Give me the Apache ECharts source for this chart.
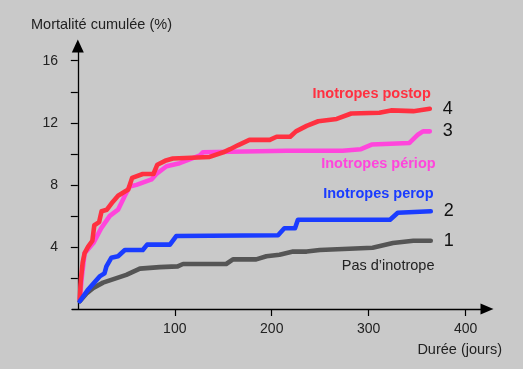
<!DOCTYPE html>
<html>
<head>
<meta charset="utf-8">
<script src="https://cdn.jsdelivr.net/npm/echarts@6/dist/echarts.min.js"></script>
<style>
html,body{margin:0;padding:0;background:#c9c9c9;}
#c{width:523px;height:369px;}
</style>
</head>
<body>
<div id="c"></div>
<script>
// Data (days, cumulative mortality %)
const postop = [[2,0.6],[3,1.8],[5,3.0],[7,3.6],[10.5,4.0],[15,4.4],[17,5.4],[22,5.6],[24.5,6.3],[30,6.4],[36,6.9],[41.5,7.3],[52,7.7],[56,8.45],[67,8.7],[78,8.7],[82,9.3],[90,9.55],[98,9.7],[136,9.8],[150,10.1],[157,10.3],[165,10.55],[177,10.9],[198,10.9],[205,11.1],[219,11.1],[225,11.45],[236,11.8],[248,12.1],[267,12.25],[282,12.6],[311,12.65],[323,12.8],[346,12.75],[363,12.9]];
const periop = [[2,0.6],[4,2.0],[7,3.6],[16,4.25],[24,5.2],[33,6.0],[41.5,6.4],[48.5,7.3],[53.5,7.9],[60.5,8.0],[76,8.35],[81,8.7],[91.5,9.2],[105,9.4],[126,9.9],[129,10.1],[215,10.2],[273,10.2],[292,10.3],[303,10.6],[342,10.7],[351,11.25],[356,11.45],[363,11.45]];
const perop = [[2,0.5],[10,1.2],[22.5,2.1],[27.5,2.3],[29.5,2.75],[34.5,3.3],[41.5,3.4],[48.5,3.8],[67,3.8],[71.5,4.15],[95,4.15],[101.5,4.7],[206.5,4.75],[213,5.2],[224,5.2],[227,5.75],[322,5.75],[330,6.2],[364,6.3]];
const none = [[2,0.5],[9,1.0],[16,1.35],[26,1.7],[50,2.2],[64,2.6],[84.5,2.7],[103,2.75],[108.5,2.9],[153,2.9],[160,3.2],[184,3.2],[194.5,3.4],[208,3.5],[222,3.7],[236,3.7],[249.5,3.8],[304,3.95],[325,4.25],[346,4.4],[364,4.4]];

const seriesNames = ['Pas d\u2019inotrope','Inotropes périop','Inotropes postop','Inotropes perop'];
const seriesNumbers = ['1','3','4','2'];
const seriesColors = ['#555555','#ff45dc','#ff3040','#1a3cff'];
const labelPositions = [[320,2.79],[310,9.33],[303,13.87],[310,7.39]];
const xTicks = [100,200,300,400];
const yTicks = [2,4,6,8,10,12,14,16];
const yLabels = [4,8,12,16];

const FONT = '"Liberation Sans", Arial, Helvetica, sans-serif';
const datasets = [none, periop, postop, perop];

const chart = echarts.init(document.getElementById('c'));
chart.setOption({
  backgroundColor: '#c9c9c9',
  animation: false,
  title: [
    {text: 'Mortalité cumulée (%)', left: 31, top: 17, padding: 0,
     textStyle: {fontFamily: FONT, fontSize: 14.5, fontWeight: 'normal', color: '#222'}},
    {text: 'Durée (jours)', right: 21, top: 342, padding: 0,
     textStyle: {fontFamily: FONT, fontSize: 14.5, fontWeight: 'normal', color: '#222'}}
  ],
  grid: {left: 72, top: 46, width: 415, height: 263},
  xAxis: {
    type: 'value', min: -6, max: 422,
    splitLine: {show: false},
    axisLine: {lineStyle: {color: '#000', width: 1.3}, symbol: ['none','triangle'], symbolSize: [11,13]},
    axisTick: {customValues: xTicks, length: 7, lineStyle: {color: '#000', width: 1.2}},
    axisLabel: {customValues: xTicks, margin: 13, fontFamily: FONT, fontSize: 14, color: '#222'}
  },
  yAxis: {
    type: 'value', min: 0, max: 16.95,
    splitLine: {show: false},
    axisLine: {show: true, lineStyle: {color: '#000', width: 1.3}, symbol: ['none','triangle'], symbolSize: [12,13]},
    axisTick: {show: true, customValues: yTicks, length: 7, lineStyle: {color: '#000', width: 1.2}},
    axisLabel: {customValues: yLabels, margin: 14, fontFamily: FONT, fontSize: 14, color: '#222'}
  },
  series: datasets.map((d, i) => ({
    type: 'line',
    name: seriesNames[i],
    data: d,
    showSymbol: false,
    symbol: 'none',
    lineStyle: {color: seriesColors[i], width: 4.6, join: 'round', cap: 'round'},
    itemStyle: {color: seriesColors[i]},
    endLabel: {show: true, formatter: seriesNumbers[i], distance: 13, fontFamily: FONT, fontSize: 18, color: '#111'},
    markPoint: {
      symbol: 'circle', symbolSize: 1,
      itemStyle: {color: 'rgba(0,0,0,0)'},
      label: {show: true, position: 'inside', formatter: seriesNames[i], fontFamily: FONT, fontSize: 14.5,
              fontWeight: i === 0 ? 'normal' : 'bold', color: i === 0 ? '#222' : seriesColors[i]},
      data: [{coord: labelPositions[i]}]
    }
  }))
});
</script>
</body>
</html>
